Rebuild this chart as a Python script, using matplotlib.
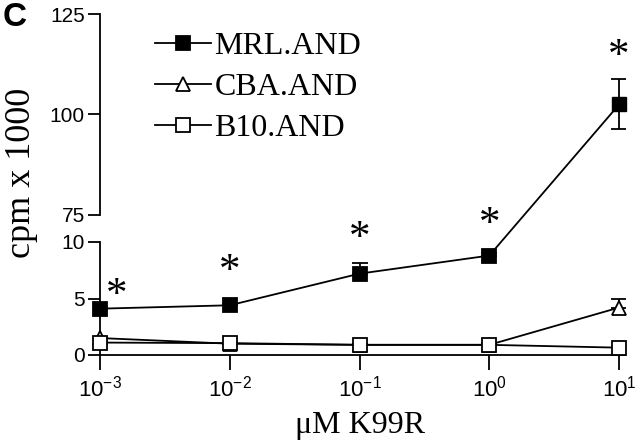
import numpy as np
import matplotlib
matplotlib.use('Agg')
import matplotlib.pyplot as plt
from matplotlib.lines import Line2D

# data (cpm x 1000)
conc = [1e-3, 1e-2, 1e-1, 1e0, 1e1]
xticklabels = ['$\\mathregular{10^{-3}}$', '$\\mathregular{10^{-2}}$',
               '$\\mathregular{10^{-1}}$', '$\\mathregular{10^{0}}$',
               '$\\mathregular{10^{1}}$']
mrl = [4.1, 4.4, 7.2, 8.8, 102.5]
mrl_err_lo = [0.0, 0.0, 0.0, 0.0, 6.0]
mrl_err_hi = [0.1, 0.1, 0.9, 0.2, 6.3]
cba = [1.5, 1.0, 0.9, 0.9, 4.2]
cba_err_hi = [0.0, 0.0, 0.1, 0.2, 0.8]
b10 = [1.1, 1.05, 0.9, 0.9, 0.65]
sig = [True, True, True, True, True]

serif = 'Liberation Serif'
sans = 'Liberation Sans'
plt.rcParams['font.family'] = sans
plt.rcParams['mathtext.fontset'] = 'custom'
plt.rcParams['mathtext.rm'] = sans

fig = plt.figure(figsize=(6.4, 4.46), dpi=100)
ax_top = fig.add_axes([100/640, 1-215/446, 525/640, 201/446])
ax_bot = fig.add_axes([100/640, 1-355/446, 525/640, 113/446])

lw = 1.3
ms = 9.5
mew = 1.3

conc = np.array(conc)
mrl = np.array(mrl)
low = mrl <= 10
high = mrl >= 75

# lower panel
ax_bot.errorbar(conc, cba, yerr=[np.zeros(len(cba)), cba_err_hi], fmt='none',
                ecolor='black', elinewidth=lw, capsize=5.5, capthick=lw, zorder=3)
h_cba, = ax_bot.plot(conc, cba, '-^', color='black', mfc='white', mec='black',
                     ms=ms, mew=mew, lw=lw, clip_on=False, zorder=4)
h_b10, = ax_bot.plot(conc, b10, '-s', color='black', mfc='white', mec='black',
                     ms=ms, mew=mew, lw=lw, clip_on=False, zorder=5)
ax_bot.errorbar(conc[low], mrl[low],
                yerr=[np.array(mrl_err_lo)[low], np.array(mrl_err_hi)[low]],
                fmt='none', ecolor='black', elinewidth=lw, capsize=5.5,
                capthick=lw, zorder=5)
h_mrl, = ax_bot.plot(conc[low], mrl[low], '-s', color='black', mfc='black',
                     mec='black', ms=ms, mew=mew, lw=lw, clip_on=False, zorder=6)

# upper panel
ax_top.errorbar(conc[high], mrl[high],
                yerr=[np.array(mrl_err_lo)[high], np.array(mrl_err_hi)[high]],
                fmt='none', ecolor='black', elinewidth=lw, capsize=5.5,
                capthick=lw, zorder=5)
ax_top.plot(conc[high], mrl[high], 's', color='black', ms=ms, clip_on=False,
            zorder=6)

for ax in (ax_top, ax_bot):
    ax.set_xscale('log')
    ax.set_xlim(1e-3, 11.1)
    for s in ('top', 'right'):
        ax.spines[s].set_visible(False)
    ax.spines['left'].set_linewidth(1.3)
    ax.tick_params(axis='y', direction='out', length=9, width=1.3,
                   labelsize=15, pad=2)

ax_top.set_ylim(75, 125)
ax_top.set_yticks([75, 100, 125])
ax_top.spines['bottom'].set_visible(False)
ax_top.set_xticks([])
ax_top.xaxis.set_minor_locator(matplotlib.ticker.NullLocator())

ax_bot.set_ylim(0, 10)
ax_bot.set_yticks([0, 5, 10])
ax_bot.spines['bottom'].set_linewidth(1.3)
ax_bot.set_xticks(conc)
ax_bot.set_xticklabels(xticklabels)
ax_bot.xaxis.set_minor_locator(matplotlib.ticker.NullLocator())
ax_bot.tick_params(axis='x', direction='out', length=11, width=1.3,
                   labelsize=16, pad=4)

# connect MRL across the axis break
i0 = np.where(low)[0][-1]
i1 = np.where(high)[0][0]
p0 = ax_bot.transData.transform((conc[i0], mrl[i0]))
p1 = ax_top.transData.transform((conc[i1], mrl[i1]))
pts = fig.transFigure.inverted().transform([p0, p1])
fig.add_artist(Line2D(pts[:, 0], pts[:, 1], color='black', lw=lw,
                      transform=fig.transFigure))

# significance asterisks
star_off = [(12, 9.5), (0, 24), (0, 25), (0, 22.5), (0, 34)]
for i, (x, y) in enumerate(zip(conc, mrl)):
    if not sig[i]:
        continue
    ax = ax_bot if y <= 10 else ax_top
    ax.annotate('*', xy=(x, y), xytext=star_off[i], textcoords='offset points',
                ha='center', va='center', fontsize=31, family=serif,
                annotation_clip=False)

ax_top.legend([h_mrl, h_cba, h_b10], ['MRL.AND', 'CBA.AND', 'B10.AND'],
              loc='upper left', bbox_to_anchor=(0.08, 0.975), frameon=False,
              prop={'family': serif, 'size': 23}, handlelength=1.75,
              handletextpad=0.12, labelspacing=0.36, borderaxespad=0)

fig.text(22/640, 1-173/446, 'cpm x 1000', rotation=90, ha='center',
         va='center', fontsize=26, family=serif)
fig.text(360/640, 1-425/446, '\u03bcM K99R', ha='center', va='center',
         fontsize=23, family=serif)
fig.text(15/640, 1-18/446, 'C', ha='center', va='center', fontsize=24,
         fontweight='bold', family=sans)

fig.savefig('out.png', dpi=100)
